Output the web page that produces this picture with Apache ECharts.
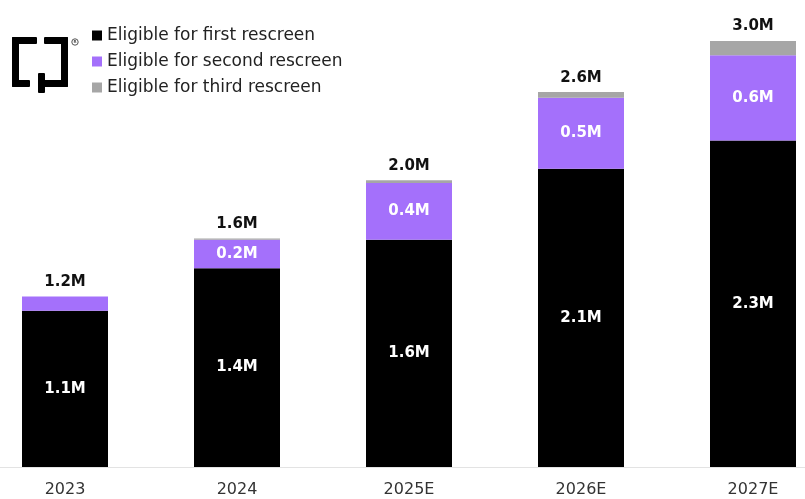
<!DOCTYPE html>
<html>
<head>
<meta charset="utf-8">
<style>
  html, body { margin: 0; padding: 0; background: #ffffff; overflow: hidden; width: 805px; height: 499px; }
  /* the plot runs a little past both page edges so the outer bars sit near the borders */
  #chart { position: absolute; left: -21px; top: 0; width: 860px; height: 499px; }
</style>
<script src="https://cdn.jsdelivr.net/npm/echarts@6/dist/echarts.min.js"></script>
</head>
<body>
<div id="chart"></div>
<script>
// Rescreen-eligible population, millions
const years = ['2023', '2024', '2025E', '2026E', '2027E'];
const firstRescreen = [1.1, 1.4, 1.6, 2.1, 2.3];
const secondRescreen = [0.1, 0.2, 0.4, 0.5, 0.6];
const thirdRescreen = [0, 0.01, 0.02, 0.04, 0.1];
const seriesNames = ['Eligible for first rescreen', 'Eligible for second rescreen', 'Eligible for third rescreen'];
const colors = ['#000000', '#a470fb', '#a6a6a6'];

const totals = years.map((_, i) => firstRescreen[i] + secondRescreen[i] + thirdRescreen[i]);

const FONT = '"DejaVu Sans", "Open Sans", sans-serif';
const fmt = v => v.toFixed(1) + 'M';
const OFFSET = 21; // page-to-canvas shift for overlay graphics

const insideLabel = min => ({
  show: true,
  position: 'inside',
  color: '#ffffff',
  fontFamily: FONT,
  fontWeight: 700,
  fontSize: 15,
  formatter: p => (p.value >= min ? fmt(p.value) : '')
});

const chart = echarts.init(document.getElementById('chart'), null, { renderer: 'canvas' });

// logo: two bracket halves, the right one with a short stem below
const logoRects = [
  [12, 37, 25, 7], [12, 37, 7, 50], [12, 80, 18, 7],
  [44, 37, 24, 7], [61, 37, 7, 50], [38, 80, 30, 7], [38, 73, 7, 20]
].map(([x, y, w, h]) => ({
  type: 'rect',
  shape: { x: x + OFFSET, y: y, width: w, height: h, r: 1 },
  style: { fill: '#000' }
}));

chart.setOption({
  animation: false,
  backgroundColor: '#ffffff',
  grid: { left: 0, right: 0, top: 41, bottom: 32 },
  legend: {
    orient: 'vertical',
    left: 87 + OFFSET,
    top: 22,
    icon: 'rect',
    itemWidth: 10,
    itemHeight: 10,
    itemGap: 9,
    data: seriesNames,
    textStyle: { fontFamily: FONT, fontSize: 17, color: '#222222', lineHeight: 17 },
    selectedMode: false
  },
  xAxis: {
    type: 'category',
    data: years,
    axisLine: { show: true, lineStyle: { color: '#e3e3e3', width: 1 } },
    axisTick: { show: false },
    axisLabel: { fontFamily: FONT, fontSize: 16, color: '#333333', margin: 15 }
  },
  yAxis: {
    type: 'value',
    min: 0,
    max: 3.0,
    show: false,
    splitLine: { show: false }
  },
  series: [
    {
      name: seriesNames[0],
      type: 'bar',
      stack: 'eligible',
      barWidth: 86,
      data: firstRescreen,
      itemStyle: { color: colors[0] },
      label: insideLabel(0.2)
    },
    {
      name: seriesNames[1],
      type: 'bar',
      stack: 'eligible',
      barWidth: 86,
      data: secondRescreen,
      itemStyle: { color: colors[1] },
      label: insideLabel(0.2)
    },
    {
      name: seriesNames[2],
      type: 'bar',
      stack: 'eligible',
      barWidth: 86,
      data: thirdRescreen,
      itemStyle: { color: colors[2] }
    },
    {
      // zero-height cap carrying the stack total above each bar
      name: 'total',
      type: 'bar',
      stack: 'eligible',
      barWidth: 86,
      data: years.map(() => 0),
      itemStyle: { color: 'transparent' },
      label: {
        show: true,
        position: 'top',
        distance: 7,
        color: '#111111',
        fontFamily: FONT,
        fontWeight: 700,
        fontSize: 15,
        formatter: p => fmt(totals[p.dataIndex])
      }
    }
  ],
  graphic: logoRects.concat([
    { type: 'circle', shape: { cx: 75 + OFFSET, cy: 42, r: 3.2 }, style: { fill: 'none', stroke: '#555', lineWidth: 1 } },
    { type: 'text', style: { x: 75 + OFFSET, y: 42, text: 'R', fontSize: 4, fontWeight: 700, fill: '#555', align: 'center', verticalAlign: 'middle', fontFamily: FONT } }
  ])
});
</script>
</body>
</html>
